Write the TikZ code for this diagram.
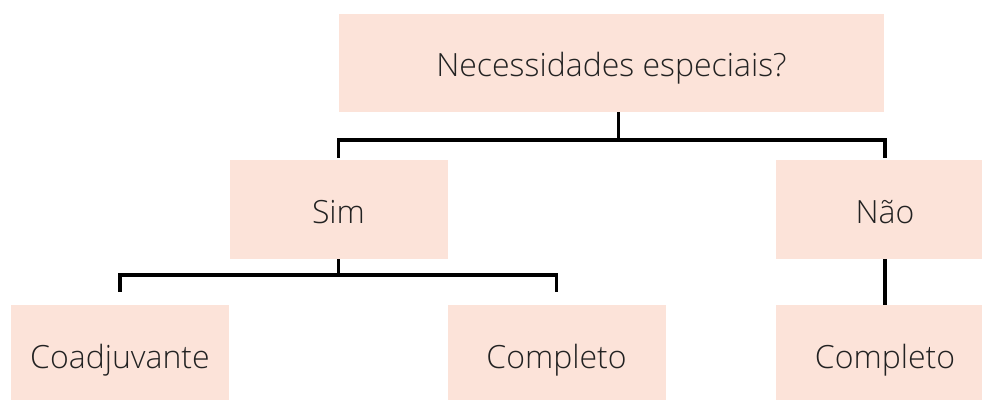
\documentclass[tikz,border=0pt]{standalone}
\usepackage{fontspec}
\setmainfont{Open Sans}[UprightFont=* Light]
\usetikzlibrary{positioning}
\definecolor{peach}{HTML}{FCE3D9}
\definecolor{ink}{HTML}{222222}

\begin{document}
\begin{tikzpicture}[x=1pt,y=-1pt,
  box/.style={fill=peach, minimum width=218pt, minimum height=99pt, inner sep=0pt, text height=28pt, text depth=1pt, text=ink, font=\fontsize{32}{38}\selectfont},
  link/.style={draw=black, line width=3.6pt, line join=miter}
]
\useasboundingbox (0,0) rectangle (982,399);
\node[box, minimum width=545pt, minimum height=98pt] (question) at (611.5,63) {Necessidades especiais?};
\node[box] (sim) at (338.5,209.5) {Sim};
\node[box] (nao) at (885,209.5) {Não};
\node[box] (coad) at (120,354.5) {Coadjuvante};
\node[box] (compA) at (556.5,354.5) {Completo};
\node[box] (compB) at (885,354.5) {Completo};
% first split
\draw[link] ([xshift=7pt]question.south) -- ++(0,28) coordinate (qjoin);
\draw[link] ([yshift=2pt]sim.north) |- (qjoin) -| ([yshift=2pt]nao.north);
% second split
\draw[link] (sim.south) -- ++(0,16) coordinate (sjoin);
\draw[link] ([yshift=13pt]coad.north) |- (sjoin) -| ([yshift=13pt]compA.north);
\draw[link] (nao.south) -- (compB.north);
\end{tikzpicture}
\end{document}
